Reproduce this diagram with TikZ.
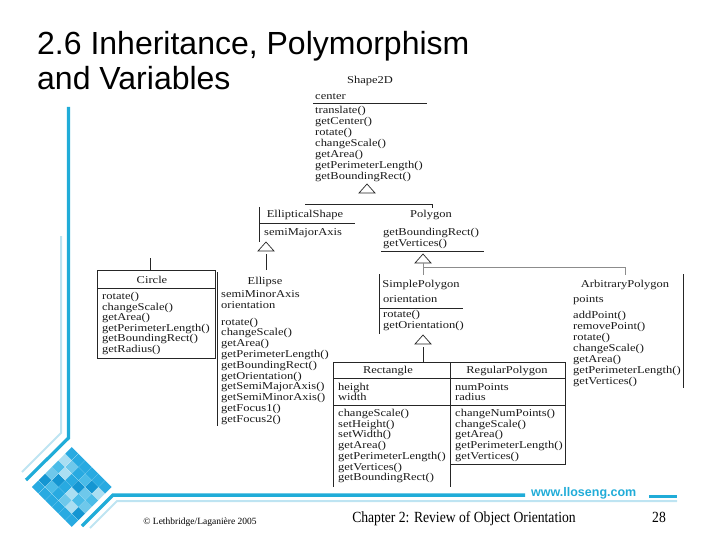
\documentclass[tikz,border=0pt]{standalone}
\usepackage{fontspec}
\setmainfont{Liberation Serif}
\newfontfamily\titlefont{Liberation Sans}
\newfontfamily\umlfont[FakeStretch=1.19]{Liberation Serif}
\newfontfamily\chapfont[FakeStretch=0.88]{Liberation Serif}
\definecolor{cyanbar}{RGB}{32,172,216}
\definecolor{lightbar}{RGB}{190,228,242}
\definecolor{gline}{gray}{0.55}
\definecolor{tile0}{RGB}{40,170,225}
\definecolor{tile1}{RGB}{110,200,235}
\definecolor{tile2}{RGB}{170,222,242}
\definecolor{tile3}{RGB}{20,150,210}
\definecolor{tile4}{RGB}{75,188,232}
\begin{document}
\begin{tikzpicture}[x=1pt,y=-1pt,
  uml/.style={font=\umlfont\fontsize{10.5}{11}\selectfont, inner sep=0pt, anchor=base west, text=black!90},
  umlc/.style={uml, anchor=base},
  edge/.style={line width=0.8pt, draw=black!85},
  gen/.style={line width=0.7pt, draw=black!85, fill=white},
  gedge/.style={line width=0.8pt, draw=gline},
  ttl/.style={font=\titlefont\fontsize{32}{32}\selectfont, anchor=base west, inner sep=0pt}]
\useasboundingbox (0,0) rectangle (720,540);

% title
\node[ttl] (title1) at (37,55) {2.6 Inheritance, Polymorphism};
\node[ttl] (title2) at (37,90) {and Variables};

% decorative lines
\draw[lightbar, line width=2pt] (61,236) -- (61,433) -- (22,472);
\draw[cyanbar, line width=3.2pt] (68.5,107) -- (68.5,438) -- (26,480);
\draw[lightbar, line width=2pt] (90,528) -- (117,501) -- (677,501);
\draw[cyanbar, line width=3.5pt] (82,526) -- (113,495) -- (525,495);
\draw[cyanbar, line width=3pt] (649,496) -- (677,496);
\begin{scope}[shift={(72,487)}, rotate=45]
\foreach \i in {0,...,5} \foreach \j in {0,...,5} {
  \pgfmathtruncatemacro\k{mod(3*\i+5*\j+\i*\j,5)}
  \fill[tile\k] ({-28.3+9.43*\i},{-28.3+9.43*\j}) rectangle ++(9.2,9.2);
}
\end{scope}

% Shape2D
\node[umlc] (sh-name) at (370,84) {Shape2D};
\node[uml] (sh-attr) at (315,100) {center};
\draw[edge] (313,103) -- (427,103);
\foreach \t [count=\i from 0] in {translate(),getCenter(),rotate(),changeScale(),getArea(),getPerimeterLength(),getBoundingRect()}
  \node[uml] (sh-op\i) at (315,{114+11*\i}) {\t};
\coordinate (sh-gen) at (367,184);
\draw[gen] (sh-gen) -- ++(-8,9) -- ++(16,0) -- cycle;
\coordinate (bus-l) at (305,204);
\coordinate (bus-r) at (432,204);
\draw[edge] (bus-l) -- (bus-r) -- ++(0,4);

% EllipticalShape
\draw[edge] (259,207) -- (259,242);
\node[umlc] (es-name) at (305,218) {EllipticalShape};
\draw[edge] (259,223) -- (355,223);
\node[uml] (es-attr) at (264,236) {semiMajorAxis};
\coordinate (es-gen) at (266,242);
\draw[gen] (es-gen) -- ++(-8,9) -- ++(16,0) -- cycle;
\draw[edge] (266,254) -- (266,270);

% Polygon
\node[umlc] (po-name) at (431,218) {Polygon};
\node[uml] (po-op0) at (383,236) {getBoundingRect()};
\node[uml] (po-op1) at (383,247) {getVertices()};
\draw[edge] (381,251) -- (484,251);
\coordinate (po-gen) at (423,254);
\draw[gen] (po-gen) -- ++(-8,9) -- ++(16,0) -- cycle;
\draw[gedge] (423,263) -- (423,275);
\draw[gedge] (423,267) -- (625,267) -- (625,275);

% Circle
\draw[edge] (150,258) -- (150,270);
\draw[edge] (97,270) rectangle (215,358);
\node[umlc] (ci-name) at (152,283) {Circle};
\draw[edge] (97,288) -- (215,288);
\foreach \t [count=\i from 0] in {rotate(),changeScale(),getArea(),getPerimeterLength(),getBoundingRect(),getRadius()}
  \node[uml] (ci-op\i) at (102,{299.5+10.5*\i}) {\t};

% Ellipse
\draw[edge] (217,272) -- (217,426);
\node[umlc] (el-name) at (265,284) {Ellipse};
\node[uml] (el-attr0) at (221,297) {semiMinorAxis};
\node[uml] (el-attr1) at (221,308) {orientation};
\foreach \t [count=\i from 0] in {rotate(),changeScale(),getArea(),getPerimeterLength(),getBoundingRect(),getOrientation(),getSemiMajorAxis(),getSemiMinorAxis(),getFocus1(),getFocus2()}
  \node[uml] (el-op\i) at (221,{325+10.8*\i}) {\t};

% SimplePolygon
\draw[edge] (379,274) -- (379,334);
\node[umlc] (sp-name) at (421,287) {SimplePolygon};
\node[uml] (sp-attr) at (383,302) {orientation};
\draw[edge] (379,308) -- (463,308);
\node[uml] (sp-op0) at (383,317.5) {rotate()};
\node[uml] (sp-op1) at (383,328.5) {getOrientation()};
\coordinate (sp-gen) at (423,335);
\draw[gen] (sp-gen) -- ++(-8,9) -- ++(16,0) -- cycle;
\draw[edge] (423,347) -- (423,362);

% ArbitraryPolygon
\draw[edge] (683,274) -- (683,388);
\node[umlc] (ap-name) at (625,287) {ArbitraryPolygon};
\node[uml] (ap-attr) at (573,302) {points};
\foreach \t [count=\i from 0] in {addPoint(),removePoint(),rotate(),changeScale(),getArea(),getPerimeterLength(),getVertices()}
  \node[uml] (ap-op\i) at (573,{318.5+11*\i}) {\t};

% Rectangle
\draw[edge] (333,487) -- (333,362) -- (450,362) -- (450,487);
\node[umlc] (re-name) at (388,373.5) {Rectangle};
\draw[edge] (333,378) -- (565,378);
\node[uml] (re-attr0) at (338,390.5) {height};
\node[uml] (re-attr1) at (338,400.5) {width};
\draw[edge] (333,405) -- (565,405);
\foreach \t [count=\i from 0] in {changeScale(),setHeight(),setWidth(),getArea(),getPerimeterLength(),getVertices(),getBoundingRect()}
  \node[uml] (re-op\i) at (338,{416.5+10.7*\i}) {\t};

% RegularPolygon
\draw[edge] (450,362) -- (565,362) -- (565,464) -- (450,464);
\node[umlc] (rp-name) at (507,373.5) {RegularPolygon};
\node[uml] (rp-attr0) at (455,390.5) {numPoints};
\node[uml] (rp-attr1) at (455,400.5) {radius};
\foreach \t [count=\i from 0] in {changeNumPoints(),changeScale(),getArea(),getPerimeterLength(),getVertices()}
  \node[uml] (rp-op\i) at (455,{416.5+10.7*\i}) {\t};

% footer
\node[font=\titlefont\bfseries\fontsize{12.5}{13}\selectfont, text=cyanbar, anchor=base west, inner sep=0pt] (web) at (531,496) {www.lloseng.com};
\node[font=\fontsize{9.5}{10}\selectfont, anchor=base, inner sep=0pt] (copy) at (200,524) {© Lethbridge/Laganière 2005};
\node[font=\chapfont\fontsize{15.5}{16}\selectfont, anchor=base, inner sep=0pt] (chap) at (464,522) {Chapter 2: Review of Object Orientation};
\node[font=\chapfont\fontsize{15.5}{16}\selectfont, anchor=base, inner sep=0pt] (page) at (659,522) {28};
\end{tikzpicture}
\end{document}
